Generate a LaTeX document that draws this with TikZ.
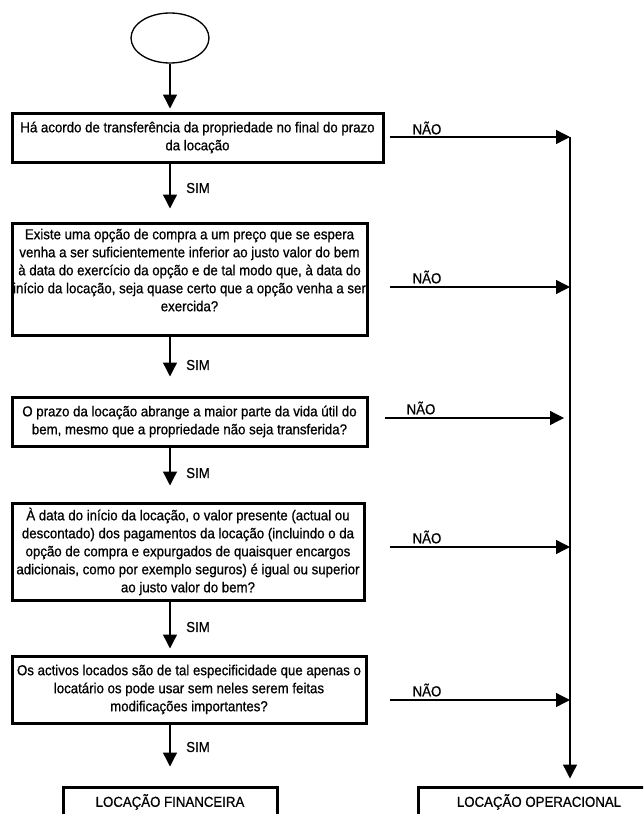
\documentclass[tikz,border=0pt]{standalone}
\usepackage{fontspec}
\usepackage{tikz}
\usetikzlibrary{arrows.meta,positioning,shapes.geometric}
\setmainfont{Liberation Sans}
\newfontfamily\flowfont[FakeStretch=0.92,FakeBold=0.8]{Liberation Sans}
\definecolor{Ink}{HTML}{000000}

\begin{document}
\begin{tikzpicture}[x=0.75pt,y=-0.75pt,
    start/.style={draw=Ink,ellipse,line width=1pt,minimum width=58.5pt,minimum height=37.5pt},
    q/.style={draw=Ink,line width=2.25pt,inner sep=0pt,align=center,font=\flowfont\fontsize{10.8}{13.5}\selectfont},
    res/.style={draw=Ink,line width=2.25pt,minimum height=22.5pt,inner sep=0pt,font=\flowfont\fontsize{10.8}{12}\selectfont},
    lbl/.style={inner sep=0pt,font=\flowfont\fontsize{10.8}{12}\selectfont},
    a/.style={-{Triangle[length=10.5pt,width=10.5pt]},line width=1pt,draw=Ink}]
    \useasboundingbox (0,0) rectangle (643,814);
    \clip (0,0) rectangle (643,814);
    \node[start] (ini) at (170,38) {};
    \node[q,minimum width=278.25pt,minimum height=36.75pt] (q1) at (197.5,137.5) {Há acordo de transferência da propriedade no final do prazo\\da locação};
    \node[q,minimum width=266.25pt,minimum height=84pt] (q2) at (189.5,279) {Existe uma opção de compra a um preço que se espera\\venha a ser suficientemente inferior ao  justo valor do bem\\à data do exercício da opção e de tal modo que, à data do\\início da locação, seja quase certo que a opção venha a ser\\exercida?\\~};
    \node[q,minimum width=266.25pt,minimum height=36.75pt] (q3) at (189.5,421.5) {O prazo da locação abrange a maior parte da vida útil do\\bem, mesmo que a propriedade não seja transferida?};
    \node[q,minimum width=264pt,minimum height=72.75pt] (q4) at (188,551.5) {À data do início da locação, o valor presente (actual ou\\descontado) dos pagamentos da locação (incluindo o da\\opção de compra e expurgados de quaisquer encargos\\adicionais, como por exemplo seguros) é igual ou superior\\ao justo valor do bem?};
    \node[q,minimum width=265.5pt,minimum height=50.25pt] (q5) at (189,689.5) {Os activos locados são de tal especificidade que apenas o\\locatário os pode usar sem neles serem feitas\\modificações importantes?};
    \node[res,minimum width=160.5pt] (fin) at (170,802) {LOCAÇÃO FINANCEIRA};
    \node[res,minimum width=181.5pt] (ope) at (539,802) {LOCAÇÃO OPERACIONAL};
    % labels
    \node[lbl] (s1) at (198,188) {SIM}; \node[lbl] (s2) at (198,365) {SIM}; \node[lbl] (s3) at (198,473) {SIM}; \node[lbl] (s4) at (198,627) {SIM}; \node[lbl] (s5) at (198,747) {SIM};
    \node[lbl] (n1) at (427,128) {NÃO}; \node[lbl] (n2) at (427,277) {NÃO}; \node[lbl] (n3) at (421,408) {NÃO}; \node[lbl] (n4) at (427,537) {NÃO}; \node[lbl] (n5) at (427,690) {NÃO};
    % trunk
    \coordinate (t1) at (570,137); \coordinate (t2) at (570,287); \coordinate (t3) at (570,418); \coordinate (t4) at (570,547); \coordinate (t5) at (570,700);
    \draw[a,shorten >=2.25pt] (ini) -- (q1.north -| ini);
    \draw[a,shorten >=9.75pt] (q1.south -| ini) -- (q2.north -| ini); \draw[a,shorten >=14.25pt] (q2.south -| ini) -- (q3.north -| ini); \draw[a,shorten >=12pt] (q3.south -| ini) -- (q4.north -| ini); \draw[a,shorten >=4.5pt] (q4.south -| ini) -- (q5.north -| ini); \draw[a,shorten >=14.25pt] (q5.south -| ini) -- (fin.north -| ini);
    \draw[a,shorten <=3.75pt] (q1.east |- t1) -- (t1); \draw[a,shorten <=15.75pt] (q2.east |- t2) -- (t2); \draw[a,shorten <=12pt,shorten >=4.5pt] (q3.east |- t3) -- (t3); \draw[a,shorten <=18pt] (q4.east |- t4) -- (t4); \draw[a,shorten <=16.5pt] (q5.east |- t5) -- (t5);
    \draw[a,shorten >=5.25pt] (t1) -- (ope.north -| t1);
  \end{tikzpicture}
\end{document}
